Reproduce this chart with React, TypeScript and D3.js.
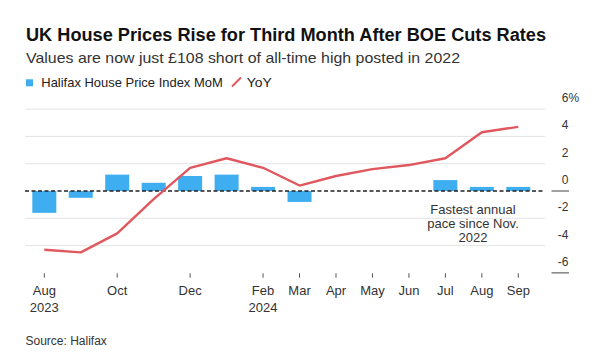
import React from "react";
import * as d3 from "d3";

const months = ["2023-08","2023-09","2023-10","2023-11","2023-12","2024-01","2024-02","2024-03","2024-04","2024-05","2024-06","2024-07","2024-08","2024-09"];
const momValues = [-1.6, -0.5, 1.2, 0.6, 1.1, 1.2, 0.3, -0.8, 0, 0, 0, 0.8, 0.3, 0.3];
const yoyValues = [-4.3, -4.5, -3.1, -0.6, 1.7, 2.4, 1.7, 0.4, 1.1, 1.6, 1.9, 2.4, 4.3, 4.7];
const xTickMonths = ["2023-08","2023-10","2023-12","2024-02","2024-03","2024-04","2024-05","2024-06","2024-07","2024-08","2024-09"];
const xTickLabels = ["Aug","Oct","Dec","Feb","Mar","Apr","May","Jun","Jul","Aug","Sep"];
const xTickYears = ["2023","","","2024","","","","","","",""];
const yTicks = [6, 4, 2, 0, -2, -4, -6];
const annotationLines = ["Fastest annual", "pace since Nov.", "2022"];

const FONT = "'Liberation Sans', Arial, Helvetica, sans-serif";
const BAR = "#3eaef0";
const LINE = "#e0575d";

export default function App() {
  const W = 594, H = 356;
  const x = d3.scalePoint<string>().domain(months).range([44.3, 518.3]);
  const y = d3.scaleLinear().domain([-6, 6]).range([272.9, 109.1]);
  const barW = 24;
  const gridX0 = 25, gridX1 = 545;
  const line = d3.line<number>().x((_, i) => x(months[i])!).y((d) => y(d));

  return (
    <svg width={W} height={H} style={{ position: "absolute", left: 0, top: 0, background: "#fff" }} fontFamily={FONT}>
      <rect width={W} height={H} fill="#fff" />
      <text x={26} y={41} fontSize={18} fontWeight="bold" fill="#111" textLength={520} lengthAdjust="spacingAndGlyphs">UK House Prices Rise for Third Month After BOE Cuts Rates</text>
      <text x={26} y={62.5} fontSize={15} fill="#333" textLength={434} lengthAdjust="spacingAndGlyphs">Values are now just £108 short of all-time high posted in 2022</text>
      <rect x={26} y={79.3} width={7} height={7} fill={BAR} />
      <text x={41.3} y={86.5} fontSize={13.2} fill="#222" textLength={181.4} lengthAdjust="spacingAndGlyphs">Halifax House Price Index MoM</text>
      <line x1={232} y1={86.5} x2={241} y2={77.5} stroke={LINE} strokeWidth={2} />
      <text x={246.7} y={86.5} fontSize={13.2} fill="#222" textLength={25} lengthAdjust="spacingAndGlyphs">YoY</text>

      {yTicks.filter((t) => t !== 0 && t !== -6).map((t) => (
        <line key={t} x1={gridX0} x2={gridX1} y1={y(t)} y2={y(t)} stroke="#e4e4e4" strokeWidth={1} />
      ))}
      {yTicks.map((t) => (
        <text key={"l" + t} x={568.5} y={y(t) - 7} fontSize={12} fill="#333" textAnchor="end">{t}</text>
      ))}
      <text x={568.5} y={y(6) - 7} fontSize={12} fill="#333">%</text>
      <line x1={551.5} x2={569} y1={y(0)} y2={y(0)} stroke="#444" strokeWidth={1} />
      <line x1={551.5} x2={569} y1={y(-6)} y2={y(-6)} stroke="#444" strokeWidth={1} />

      {momValues.map((v, i) => (
        <rect key={"b" + i} x={x(months[i])! - barW / 2} width={barW} y={Math.min(y(v), y(0))} height={Math.abs(y(v) - y(0))} fill={BAR} />
      ))}
      <line x1={gridX0} x2={gridX1} y1={y(0)} y2={y(0)} stroke="#222" strokeWidth={1.3} strokeDasharray="4,2.5" />
      <path d={line(yoyValues)!} fill="none" stroke={LINE} strokeWidth={2.4} strokeLinejoin="round" />

      {annotationLines.map((s, i) => (
        <text key={"a" + i} x={473} y={214 + i * 13.8} fontSize={13} fill="#333" textAnchor="middle">{s}</text>
      ))}

      {xTickMonths.map((m, i) => (
        <g key={"t" + m} transform={`translate(${x(m)},0)`}>
          <line y1={273.3} y2={277.7} stroke="#555" strokeWidth={1} />
          <text y={295} fontSize={13} fill="#333" textAnchor="middle">{xTickLabels[i]}</text>
          {xTickYears[i] && <text y={311.5} fontSize={13} fill="#333" textAnchor="middle">{xTickYears[i]}</text>}
        </g>
      ))}
      <text x={25.5} y={345} fontSize={12} fill="#333">Source: Halifax</text>
    </svg>
  );
}
